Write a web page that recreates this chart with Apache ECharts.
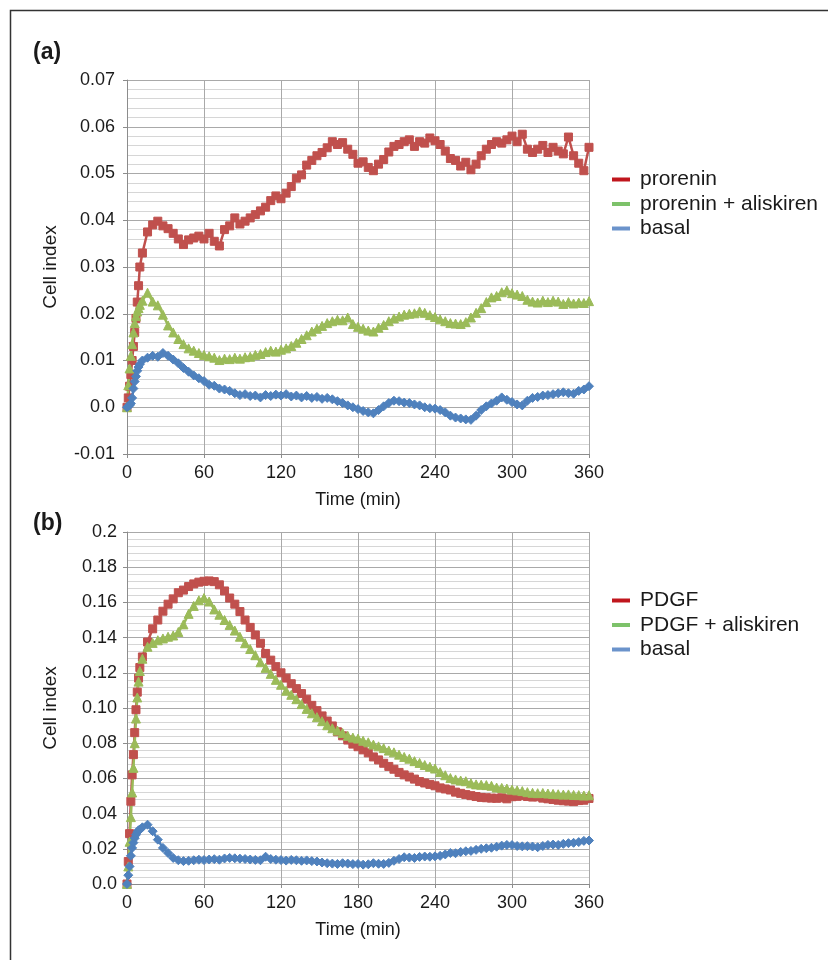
<!DOCTYPE html>
<html><head><meta charset="utf-8">
<script src="https://cdn.jsdelivr.net/npm/echarts@6/dist/echarts.min.js"></script>
<style>html,body{margin:0;padding:0;background:#fff}#c{width:828px;height:960px}</style>
</head><body><div id="c"></div>
<script>
// Time points (min)
const times = [0,1,2,3,4,5,6,7,8,9,10,
 12,16,20,24,28,32,36,40,44,48,
 52,56,60,64,68,72,76,80,84,88,
 92,96,100,104,108,112,116,120,124,128,
 132,136,140,144,148,152,156,160,164,168,
 172,176,180,184,188,192,196,200,204,208,
 212,216,220,224,228,232,236,240,244,248,
 252,256,260,264,268,272,276,280,284,288,
 292,296,300,304,308,312,316,320,324,328,
 332,336,340,344,348,352,356,360];

// (a) series
const prorenin = [0,0.002,0.0045,0.007,0.010,0.013,0.016,0.019,0.0225,0.026,0.030,
 0.033,0.0375,0.039,0.0398,0.0388,0.0382,0.0372,0.036,0.0348,0.0358,
 0.0362,0.0366,0.036,0.0372,0.0355,0.0345,0.038,0.0388,0.0405,0.0392,
 0.0398,0.0405,0.0412,0.042,0.0428,0.0442,0.0452,0.0446,0.0458,0.0472,
 0.049,0.0497,0.0518,0.0528,0.0538,0.0545,0.0555,0.0568,0.0562,0.0566,
 0.0552,0.0541,0.0522,0.0525,0.0513,0.0506,0.052,0.053,0.0546,0.0558,
 0.0562,0.0568,0.0572,0.0558,0.0568,0.0565,0.0576,0.057,0.0562,0.0548,
 0.0532,0.0528,0.0516,0.0524,0.0508,0.052,0.0538,0.0552,0.0562,0.0568,
 0.0565,0.0572,0.058,0.0568,0.0584,0.0552,0.0545,0.0552,0.056,0.0545,
 0.0556,0.0548,0.0542,0.0578,0.0538,0.0522,0.0506,0.0556];
const proreninAliskiren = [0,0.0047,0.0083,0.011,0.0135,0.016,0.018,0.0195,0.0205,0.0212,0.0219,
 0.0228,0.0245,0.0226,0.0218,0.0198,0.0175,0.016,0.0146,0.0135,0.0126,
 0.0121,0.0116,0.0112,0.0109,0.0106,0.0101,0.0104,0.0103,0.0106,0.0104,
 0.0107,0.0108,0.0112,0.0114,0.0118,0.0121,0.0119,0.0123,0.0126,0.0131,
 0.0138,0.0146,0.0154,0.0162,0.0168,0.0174,0.018,0.0184,0.0187,0.0186,
 0.0192,0.0178,0.0172,0.0168,0.0164,0.0162,0.017,0.0176,0.0184,0.019,
 0.0194,0.0198,0.02,0.0201,0.0205,0.0202,0.0197,0.0193,0.0188,0.0184,
 0.018,0.0179,0.0178,0.0182,0.0192,0.0202,0.0212,0.0225,0.0235,0.0238,
 0.0246,0.025,0.0244,0.0241,0.0238,0.023,0.0226,0.0224,0.0228,0.0225,
 0.0228,0.0226,0.0221,0.0225,0.0222,0.0224,0.0223,0.0227];
const basalA = [0,0.0002,0.0004,0.0008,0.002,0.004,0.0055,0.0066,0.0078,0.0086,0.0092,
 0.01,0.0106,0.011,0.0108,0.0116,0.011,0.0102,0.0094,0.0084,0.0076,
 0.0068,0.0062,0.0056,0.0048,0.0046,0.004,0.0038,0.0035,0.003,0.0026,
 0.0028,0.0024,0.0025,0.0021,0.0026,0.0024,0.0027,0.0025,0.0028,0.0023,
 0.0025,0.0021,0.0024,0.002,0.0022,0.0018,0.002,0.0017,0.0013,0.0009,
 0.0004,0,-0.0004,-0.0008,-0.0011,-0.0013,-0.0006,0.0002,0.0009,0.0014,
 0.0013,0.001,0.0009,0.0006,0.0004,0,-0.0002,-0.0003,-0.0006,-0.0011,
 -0.0018,-0.0022,-0.0024,-0.0026,-0.0027,-0.0018,-0.0006,0.0002,0.0008,0.0014,
 0.0021,0.0016,0.0011,0.0006,0.0004,0.0014,0.002,0.0022,0.0025,0.0026,
 0.0028,0.003,0.0032,0.003,0.0029,0.0035,0.0038,0.0045];

// (b) series
const pdgf = [0,0.0128,0.0286,0.047,0.062,0.0735,0.086,0.099,0.109,0.117,0.123,
 0.129,0.1375,0.145,0.15,0.155,0.159,0.162,0.1655,0.167,0.169,
 0.1705,0.1715,0.172,0.1722,0.1718,0.17,0.1665,0.1625,0.159,0.1548,
 0.15,0.1458,0.1415,0.1368,0.131,0.1272,0.1235,0.12,0.117,0.1138,
 0.111,0.1082,0.105,0.1015,0.0985,0.0955,0.0926,0.0898,0.0865,0.0842,
 0.0818,0.0795,0.078,0.0762,0.0745,0.0722,0.0705,0.0686,0.0668,0.0652,
 0.0634,0.062,0.0608,0.0596,0.0582,0.0574,0.0566,0.0558,0.0546,0.054,
 0.0534,0.0522,0.0515,0.0508,0.0502,0.0497,0.0492,0.049,0.0488,0.0487,
 0.049,0.0484,0.0496,0.0498,0.0502,0.0497,0.0494,0.0496,0.0488,0.0484,
 0.048,0.0476,0.0473,0.0471,0.0468,0.0474,0.0476,0.0486];
const pdgfAliskiren = [0,0.01,0.024,0.038,0.052,0.066,0.08,0.094,0.106,0.115,0.121,
 0.128,0.1348,0.137,0.1385,0.1395,0.1405,0.1412,0.1432,0.1475,0.1535,
 0.158,0.1612,0.1625,0.1605,0.156,0.153,0.15,0.1472,0.144,0.1405,
 0.1368,0.1335,0.13,0.126,0.1228,0.1194,0.116,0.1132,0.1098,0.1075,
 0.105,0.1022,0.0995,0.097,0.0948,0.0925,0.0902,0.0885,0.0872,0.0858,
 0.0842,0.0832,0.0826,0.0814,0.0805,0.0792,0.0782,0.0772,0.0758,0.0748,
 0.0735,0.0722,0.0712,0.0698,0.0688,0.0676,0.0666,0.0656,0.0636,0.0618,
 0.0602,0.0594,0.0588,0.0584,0.0572,0.0566,0.0564,0.0562,0.0558,0.0548,
 0.0546,0.0542,0.0536,0.0532,0.0528,0.0522,0.0518,0.0516,0.0517,0.0514,
 0.0512,0.051,0.0508,0.0509,0.0506,0.0505,0.0503,0.0504];
const basalB = [0,0.005,0.01,0.016,0.0205,0.0235,0.026,0.028,0.0295,0.0305,0.031,
 0.0322,0.0337,0.03,0.0252,0.0205,0.0176,0.0148,0.0135,0.013,0.0132,
 0.0135,0.0138,0.0136,0.0139,0.0141,0.0138,0.0145,0.0148,0.0146,0.0144,
 0.0142,0.0139,0.0137,0.0135,0.0155,0.0142,0.0138,0.0136,0.0133,0.0137,
 0.0135,0.0132,0.0134,0.013,0.0128,0.0122,0.0118,0.0116,0.0114,0.0118,
 0.0116,0.0113,0.0114,0.011,0.0112,0.0118,0.0115,0.0114,0.012,0.0132,
 0.0142,0.0152,0.015,0.0148,0.0154,0.0156,0.0155,0.0157,0.016,0.0168,
 0.0176,0.0175,0.0182,0.0186,0.0188,0.0194,0.02,0.0203,0.0206,0.0212,
 0.0218,0.0222,0.0221,0.0216,0.0214,0.0215,0.0213,0.0209,0.0216,0.0222,
 0.0224,0.0222,0.0228,0.0232,0.0234,0.0238,0.0245,0.0247];

// tick labels
const xTicks = ['0','60','120','180','240','300','360'];
const yTicksA = ['-0.01','0.0','0.01','0.02','0.03','0.04','0.05','0.06','0.07'];
const yTicksB = ['0.0','0.02','0.04','0.06','0.08','0.10','0.12','0.14','0.16','0.18','0.2'];
const legendA = ['prorenin','prorenin + aliskiren','basal'];
const legendB = ['PDGF','PDGF + aliskiren','basal '];

const FONT = "'Liberation Sans', Arial, sans-serif";
const TXT = '#1a1a1a';
const C_RED = '#C0504D', C_GREEN = '#9BBB59', C_BLUE = '#4F81BD';
const L_RED = '#C0161D', L_GREEN = '#7DC26A', L_BLUE = '#6B93CB';

function pairs(v){ return times.map((t,i)=>[t, v[i]]); }

function xAxis(gi){
  return {type:'value', gridIndex:gi, min:0, max:360, interval:60,
    axisLine:{onZero:false, lineStyle:{color:'#8c8c8c', width:1}},
    axisTick:{show:true, length:4, lineStyle:{color:'#8c8c8c'}},
    splitLine:{show:true, lineStyle:{color:'#a9a9a9', width:1}},
    axisLabel:{fontSize:18, fontFamily:FONT, color:TXT, margin:10,
      formatter:v=>xTicks[Math.round(v/60)]},
    name:'Time (min)', nameLocation:'middle', nameGap:37,
    nameTextStyle:{fontSize:18, fontFamily:FONT, color:TXT}};
}
function yAxis(gi, min, max, interval, labels, margin){
  return {type:'value', gridIndex:gi, min:min, max:max, interval:interval,
    axisLine:{show:true, lineStyle:{color:'#8c8c8c', width:1}},
    axisTick:{show:true, length:4, lineStyle:{color:'#8c8c8c'}},
    splitLine:{show:true, lineStyle:{color:'#a9a9a9', width:1}},
    minorTick:{show:false, splitNumber:5},
    minorSplitLine:{show:true, lineStyle:{color:'#d6d6d6', width:1}},
    axisLabel:{fontSize:18, fontFamily:FONT, color:TXT, margin:margin,
      formatter:v=>labels[Math.round((v-min)/interval)]},
    name:'Cell index', nameLocation:'middle', nameGap:67, nameRotate:90,
    nameTextStyle:{fontSize:19, fontFamily:FONT, color:TXT}};
}
function ser(name, gi, vals, color, symbol, size){
  return {type:'line', name:name, xAxisIndex:gi, yAxisIndex:gi, data:pairs(vals),
    symbol:symbol, symbolSize:size, showAllSymbol:true, animation:false,
    itemStyle:{color:color, borderColor:color}, lineStyle:{color:color, width:2.5},
    emphasis:{disabled:true}};
}
function legend(names, colors, top){
  return {orient:'vertical', left:612, top:top, padding:0, icon:'rect', itemWidth:18, itemHeight:4,
    itemGap:3.5, selectedMode:false,
    textStyle:{fontSize:21, lineHeight:21, fontFamily:FONT, color:TXT, padding:[0,0,0,5]},
    data:names.map((n,i)=>({name:n, itemStyle:{color:colors[i]}}))};
}

const chart = echarts.init(document.getElementById('c'), null, {renderer:'canvas'});
chart.setOption({
  backgroundColor:'#fff',
  animation:false,
  grid:[{left:127, top:80, width:462, height:374},
        {left:127, top:532, width:462, height:352}],
  xAxis:[xAxis(0), xAxis(1)],
  yAxis:[yAxis(0,-0.01,0.07,0.01,yTicksA,12), yAxis(1,0,0.2,0.02,yTicksB,10)],
  legend:[legend(legendA,[L_RED,L_GREEN,L_BLUE],169), legend(legendB,[L_RED,L_GREEN,L_BLUE],590)],
  series:[
    ser(legendA[0],0,prorenin,C_RED,'rect',8),
    ser(legendA[1],0,proreninAliskiren,C_GREEN,'triangle',9),
    ser(legendA[2],0,basalA,C_BLUE,'diamond',9),
    ser(legendB[0],1,pdgf,C_RED,'rect',8),
    ser(legendB[1],1,pdgfAliskiren,C_GREEN,'triangle',9),
    ser(legendB[2],1,basalB,C_BLUE,'diamond',9)
  ],
  graphic:[
    {type:'rect', silent:true, shape:{x:10.5,y:10.5,width:900,height:1000},
     style:{fill:null, stroke:'#333', lineWidth:1.5}},
    {type:'text', left:33, top:41, silent:true, style:{text:'(a)', font:"bold 23px 'Liberation Sans', Arial", fill:TXT}},
    {type:'text', left:33, top:512, silent:true, style:{text:'(b)', font:"bold 23px 'Liberation Sans', Arial", fill:TXT}}
  ]
});
</script></body></html>
